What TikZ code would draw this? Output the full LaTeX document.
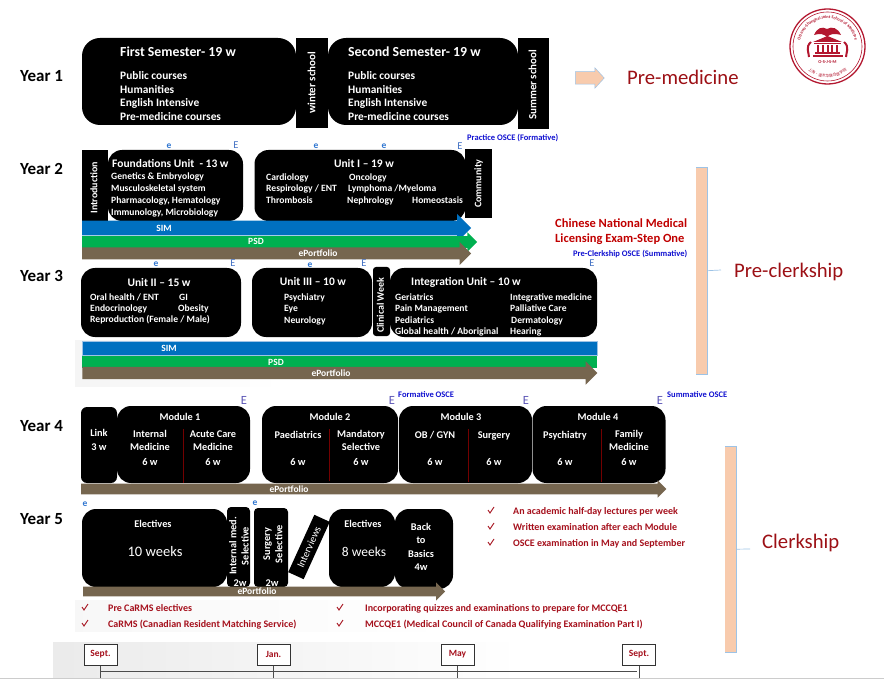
\documentclass[tikz,border=0pt]{standalone}
\usepackage{fontspec}
\setmainfont{Carlito}
\newfontfamily\cjk{Noto Sans CJK SC}
\usepackage{xcolor}
\usetikzlibrary{calc,shapes.arrows,decorations.text}

\definecolor{simblue}{HTML}{0070C0}
\definecolor{psdgreen}{HTML}{00B050}
\definecolor{portbrown}{HTML}{76664F}
\definecolor{peach}{HTML}{F8CBAD}
\definecolor{paleblue}{HTML}{9DC3E6}
\definecolor{titlered}{HTML}{9C1015}
\definecolor{notered}{HTML}{A5101C}
\definecolor{stepred}{HTML}{C00000}
\definecolor{logored}{HTML}{B3172F}
\definecolor{osceblue}{HTML}{1010D0}
\definecolor{markblue}{HTML}{4472C4}
\definecolor{markpurple}{HTML}{5B55B5}
\definecolor{smallblue}{HTML}{2E75D0}

\tikzset{
    blackbox/.style={fill=black, rounded corners=#1, inner sep=0pt},
    blackbox/.default=14pt,
    blackrect/.style={fill=black, inner sep=0pt},
    blocktext/.style={text=white, font=\bfseries\fontsize{#1}{#1}\selectfont, inner sep=0pt},
    blocktext/.default=10.3,
    boxtext/.style={blocktext=#1, text height=.65*#1 pt, text depth=.2*#1 pt, yshift=-1.8pt},
    boxtext/.default=10.3,
    bandtext/.style={blocktext=9.5, text height=6.2pt, text depth=1.9pt, yshift=-.6pt},
    listtext/.style={boxtext=#1, anchor=west},
    listtext/.default=9.6,
    yeartext/.style={font=\bfseries\fontsize{17}{17}\selectfont, inner sep=0pt, anchor=west, text height=11pt, text depth=3.4pt, yshift=-2.6pt},
    bandarrow/.style 2 args={single arrow, inner xsep=0pt, inner ysep=#1, single arrow head extend=#2, anchor=west},
    bandrect/.style={inner sep=0pt, anchor=north west},
    phasetext/.style={text=titlered, font=\fontsize{20.7}{20.7}\selectfont, inner sep=0pt, anchor=west, text height=13.5pt, text depth=4pt, yshift=-2.8pt},
    oscetext/.style={text=osceblue, font=\bfseries\fontsize{8.5}{8.5}\selectfont, inner sep=0pt, anchor=west, text height=5.5pt, text depth=1.7pt, yshift=-1.4pt},
    redtext/.style={text=notered, font=\bfseries\fontsize{10}{10}\selectfont, inner sep=0pt, anchor=west, text height=6.5pt, text depth=2pt, yshift=-1.6pt},
    steptext/.style={text=stepred, font=\bfseries\fontsize{12.5}{12.5}\selectfont, inner sep=0pt, anchor=west, text height=8.1pt, text depth=2.5pt, yshift=-1.8pt},
    markE/.style={text=markblue, font=\fontsize{10.5}{10.5}\selectfont, inner sep=0pt},
    marke/.style={text=smallblue, font=\bfseries\fontsize{9.5}{9.5}\selectfont, inner sep=0pt},
    bigE/.style={text=markpurple, font=\fontsize{12.5}{12.5}\selectfont, inner sep=0pt},
    monthbox/.style={draw=black!80, line width=1pt, fill=white, text=notered, font=\bfseries\fontsize{9.5}{9.5}\selectfont, minimum width=33pt, minimum height=21pt, inner sep=0pt},
    bracketbar/.style={fill=peach, inner sep=0pt, anchor=north west},
    bracketline/.style={draw=paleblue, line width=.7pt},
    divider/.style={draw=red!45!black, line width=1pt}
}

\begin{document}
\begin{tikzpicture}[x=1pt, y=-1pt]
    \useasboundingbox (0,0) rectangle (884,679);

    % faint paper behind year 3, year 5 notes and the months
    \fill[left color=black!8, right color=white, draw=none] (53,642) rectangle (520,677);
    \fill[left color=black!4, right color=white, draw=none] (75,340) rectangle (280,386);
    \fill[left color=black!3, right color=white, draw=none] (75,600) rectangle (450,631);
    \draw[black!20, line width=1pt] (0,678) -- (884,678);

    % year labels
    \node[yeartext] (y1) at (20,75) {Year 1};
    \node[yeartext] (y2) at (20,168) {Year 2};
    \node[yeartext] (y3) at (20,275) {Year 3};
    \node[yeartext] (y4) at (20,425) {Year 4};
    \node[yeartext] (y5) at (20,518) {Year 5};

    % year 1
    \node[blackrect, minimum width=32pt, minimum height=90pt] (winter) at (312,83) {};
    \node[blackrect, minimum width=31pt, minimum height=91pt] (summer) at (533.5,83.5) {};
    \node[blackbox=18pt, minimum width=214pt, minimum height=87pt] (first) at (189,81.5) {};
    \node[blackbox=18pt, minimum width=190pt, minimum height=87pt] (second) at (423,81.5) {};
    \node[boxtext=13.8, anchor=west] (firstT) at (120,52) {First Semester- 19 w};
    \node[listtext=11.4] (firstL1) at (120,75) {Public courses};
    \node[listtext=11.4] (firstL2) at (120,89) {Humanities};
    \node[listtext=11.4] (firstL3) at (120,102) {English Intensive};
    \node[listtext=11.4] (firstL4) at (120,116) {Pre-medicine courses};
    \node[boxtext=13.8, anchor=west] (secondT) at (348,52) {Second Semester- 19 w};
    \node[listtext=11.4] (secondL1) at (348,75) {Public courses};
    \node[listtext=11.4] (secondL2) at (348,89) {Humanities};
    \node[listtext=11.4] (secondL3) at (348,102) {English Intensive};
    \node[listtext=11.4] (secondL4) at (348,116) {Pre-medicine courses};
    \node[boxtext=11, rotate=90] (winterT) at (313,81) {winter school};
    \node[boxtext=11, rotate=90] (summerT) at (534,83) {Summer school};
    \node[single arrow, inner xsep=0pt, inner ysep=6pt, single arrow head extend=4pt, single arrow tip angle=95, fill=peach, draw=paleblue, line width=.5pt, minimum height=29pt, anchor=west] (goarrow) at (575,78) {};
    \node[phasetext] (premed) at (627,77) {Pre-medicine};

    % logo
    \node[draw=logored, line width=1.3pt, circle, minimum size=75pt, inner sep=0pt] (logo) at (827.5,46.5) {};
    \draw[logored, line width=.6pt] (logo.center) circle (34.5);
    \path[decorate, decoration={text along path, text align=center, text={|\color{logored}\bfseries\fontsize{4.3}{4.3}\selectfont|Ottawa-Shanghai Joint School of Medicine}}]
        (800.5,53.7) arc[start angle=165, end angle=375, radius=28];
    \path[decorate, decoration={text along path, text align=center, text={|\cjk\color{logored}\fontsize{3.8}{3.8}\selectfont|上海·渥太华联合医学院}}]
        (798,56) arc[start angle=162, end angle=18, radius=31];
    \fill[logored] (827,29) .. controls (822,26) and (817,28) .. (814,35) .. controls (820,33) and (824,34) .. (827,37) .. controls (830,34) and (834,33) .. (841,35) .. controls (838,28) and (832,26) .. (827,29) -- cycle;
    \fill[logored] (813,42) -- (827.5,36) -- (842,42) -- cycle;
    \fill[logored] (814,43) rectangle (841,44.5);
    \fill[logored] (815,52) rectangle (840,54);
    \fill[logored] (812.5,55) rectangle (842.5,57.5);
    \foreach \colx in {817,822,826.5,831,836}
        \fill[logored] (\colx,45) rectangle (\colx+2.4,52);
    \draw[logored, line width=2pt] (811,42) .. controls (805,47) and (809,53) .. (809,57);
    \draw[logored, line width=2pt] (844,42) .. controls (850,47) and (846,53) .. (846,57);
    \node[text=logored, font=\bfseries\fontsize{4.5}{4.5}\selectfont, inner sep=0pt] (logoT) at (827.5,62) {O-S-J-S-M};

    % year 2
    \node[blackrect, minimum width=26pt, minimum height=71pt] (intro) at (95,185.5) {};
    \node[blackrect, minimum width=27pt, minimum height=69pt] (commun) at (478.5,183.5) {};
    \node[blackbox, minimum width=135pt, minimum height=71pt] (found) at (175.5,185.5) {};
    \node[blackbox, minimum width=211pt, minimum height=71pt] (unitA) at (360,185.5) {};
    \node[boxtext=10, rotate=90] (introT) at (95,186) {Introduction};
    \node[boxtext=10, rotate=90] (communT) at (479,182) {Community};
    \node[boxtext=11.5, anchor=west] (foundT) at (112,163) {Foundations Unit ~- 13 w};
    \node[listtext] (foundL1) at (111,176) {Genetics \& Embryology};
    \node[listtext] (foundL2) at (111,188) {Musculoskeletal system};
    \node[listtext] (foundL3) at (111,200) {Pharmacology, Hematology};
    \node[listtext] (foundL4) at (111,212) {Immunology, Microbiology};
    \node[boxtext=11.5] (unitAT) at (364,163) {Unit I -- 19 w};
    \node[listtext] (unitA1) at (266,177) {Cardiology};
    \node[listtext] (unitA2) at (266,188) {Respirology / ENT};
    \node[listtext] (unitA3) at (266,200) {Thrombosis};
    \node[listtext] (unitA4) at (349,177) {Oncology};
    \node[listtext] (unitA5) at (348,188) {Lymphoma /Myeloma};
    \node[listtext] (unitA6) at (347,200) {Nephrology};
    \node[listtext] (unitA7) at (412,200) {Homeostasis};

    \node[bandarrow={7.2pt}{6.8pt}, fill=simblue, minimum height=389pt] (simA) at (82,228) {};
    \node[bandarrow={5.7pt}{4pt}, fill=psdgreen, minimum height=395pt] (psdA) at (82,242) {};
    \node[bandarrow={5.8pt}{5.7pt}, fill=portbrown, minimum height=389pt] (portA) at (82,253.5) {};
    \node[bandtext] (simAT) at (164,229) {SIM};
    \node[bandtext] (psdAT) at (256,242) {PSD};
    \node[bandtext] (portAT) at (318,254) {ePortfolio};

    \node[marke] (e1) at (169,146) {e};
    \node[markE] (E1) at (236,145) {E};
    \node[marke] (e2) at (316,146) {e};
    \node[marke] (e3) at (384,146) {e};
    \node[markE] (E2) at (460,146) {E};
    \node[oscetext] (osce1) at (467,137) {Practice OSCE (Formative)};
    \node[steptext] (step1A) at (555,223) {Chinese National Medical};
    \node[steptext] (step1B) at (555,238) {Licensing Exam-Step One};
    \node[oscetext] (osce2) at (573,253) {Pre-Clerkship OSCE (Summative)};

    % year 3
    \node[blackbox, minimum width=160pt, minimum height=69pt] (unitB) at (161,302.5) {};
    \node[blackbox, minimum width=120pt, minimum height=69pt] (unitC) at (312,302.5) {};
    \node[blackbox=3pt, minimum width=17pt, minimum height=69pt] (clin) at (381.5,301.5) {};
    \node[blackbox, minimum width=207pt, minimum height=69pt] (integ) at (493.5,302.5) {};
    \node[boxtext=11.5] (unitBT) at (159,282) {Unit II -- 15 w};
    \node[listtext] (unitB1) at (90,297) {Oral health / ENT};
    \node[listtext] (unitB2) at (90,308) {Endocrinology};
    \node[listtext] (unitB3) at (90,319) {Reproduction (Female / Male)};
    \node[listtext] (unitB4) at (179,297) {GI};
    \node[listtext] (unitB5) at (178,308) {Obesity};
    \node[boxtext=11.5] (unitCT) at (313,281) {Unit III -- 10 w};
    \node[listtext] (unitC1) at (284,297) {Psychiatry};
    \node[listtext] (unitC2) at (284,308) {Eye};
    \node[listtext] (unitC3) at (284,320) {Neurology};
    \node[boxtext=10, rotate=90] (clinT) at (381.5,303.5) {Clinical Week};
    \node[boxtext=11.5, anchor=west] (integT) at (411,281) {Integration Unit -- 10 w};
    \node[listtext] (integ1) at (395,297) {Geriatrics};
    \node[listtext] (integ2) at (395,308) {Pain Management};
    \node[listtext] (integ3) at (395,320) {Pediatrics};
    \node[listtext] (integ4) at (395,331) {Global health / Aboriginal};
    \node[listtext] (integ5) at (510,297) {Integrative medicine};
    \node[listtext] (integ6) at (510,308) {Palliative Care};
    \node[listtext] (integ7) at (511,320) {Dermatology};
    \node[listtext] (integ8) at (510,331) {Hearing};

    \node[bandrect, fill=simblue, draw=paleblue, line width=.5pt, minimum width=515pt, minimum height=14pt] (simB) at (82,341) {};
    \node[bandrect, fill=psdgreen, minimum width=515pt, minimum height=12pt] (psdB) at (82,356) {};
    \node[bandarrow={6pt}{5.5pt}, fill=portbrown, minimum height=515pt] (portB) at (82,373) {};
    \node[bandtext] (simBT) at (169,349) {SIM};
    \node[bandtext] (psdBT) at (276,363) {PSD};
    \node[bandtext] (portBT) at (331,374) {ePortfolio};

    \node[marke] (e4) at (156,264) {e};
    \node[markE] (E3) at (233,263) {E};
    \node[marke] (e5) at (310,265) {e};
    \node[markE] (E4) at (364,263) {E};
    \node[markE] (E5) at (592,263) {E};

    % year 4
    \node[blackbox=6pt, minimum width=36pt, minimum height=76pt] (link) at (99,445) {};
    \node[blackbox, minimum width=133pt, minimum height=77pt] (modA) at (183.5,444.5) {};
    \node[blackbox, minimum width=136pt, minimum height=77pt] (modB) at (330,444.5) {};
    \node[blackbox, minimum width=133pt, minimum height=77pt] (modC) at (465.5,444.5) {};
    \node[blackbox, minimum width=133pt, minimum height=77pt] (modD) at (599,444.5) {};
    \draw[divider] (183,429) -- (183,483);
    \draw[divider] (329,429) -- (329,481);
    \draw[divider] (468,429) -- (468,482);
    \draw[divider] (601,429) -- (601,482);
    \node[blocktext, align=center] (linkT) at (99,440) {Link\\[3pt]3 w};
    \foreach \nm/\cx/\lab in {modAT/180/Module 1, modBT/330/Module 2, modCT/461/Module 3, modDT/598/Module 4}
        \node[boxtext] (\nm) at (\cx,416) {\lab};
    \foreach \nm/\cx/\lab in {subA/298/Paediatrics, subB/435/{OB / GYN}, subC/494/Surgery, subD/565/Psychiatry}
        \node[boxtext] (\nm) at (\cx,434) {\lab};
    \foreach \nm/\cx/\lab in {subE/150/Internal\\[3pt]Medicine, subF/213/Acute Care\\[3pt]Medicine, subG/361/Mandatory\\[3pt]Selective, subH/629/Family\\[3pt]Medicine}
        \node[blocktext, align=center] (\nm) at (\cx,440.5) {\lab};
    \foreach \nm/\cx in {wkA/150, wkB/213, wkC/298, wkD/361, wkE/435, wkF/494, wkG/565, wkH/629}
        \node[boxtext] (\nm) at (\cx,461) {6 w};
    \node[bandarrow={5.2pt}{3.3pt}, fill=portbrown, minimum height=585pt] (portC) at (81,489) {};
    \node[bandtext] (portCT) at (289,489.5) {ePortfolio};

    \node[bigE] (E6) at (244,400) {E};
    \node[bigE] (E7) at (392,400) {E};
    \node[bigE] (E8) at (526,400) {E};
    \node[bigE] (E9) at (660,400) {E};
    \node[oscetext] (osce3) at (398,394) {Formative OSCE};
    \node[oscetext] (osce4) at (667,394) {Summative OSCE};

    % year 5
    \node[blackbox, minimum width=145pt, minimum height=78pt] (electA) at (154.5,548) {};
    \node[blackbox=4pt, minimum width=23pt, minimum height=80pt] (intern) at (238.5,547) {};
    \node[blackbox=4pt, minimum width=34pt, minimum height=79pt] (surg) at (271,547.5) {};
    \node[blackrect, minimum width=63pt, minimum height=17pt, rotate=65.5] (interv) at (309,547) {};
    \node[blackbox, minimum width=66pt, minimum height=78pt] (electB) at (362,548) {};
    \node[blackbox, minimum width=58pt, minimum height=80pt] (basics) at (424,549) {};
    \node[boxtext] (electAT) at (153,523) {Electives};
    \node[text=white, font=\fontsize{14.5}{14.5}\selectfont, inner sep=0pt] (electAW) at (155,552) {10 weeks};
    \node[blocktext, rotate=90, align=center] (internT) at (239,546) {Internal med.\\[2pt]Selective};
    \node[boxtext] (internW) at (240,582) {2w};
    \node[blocktext, rotate=90, align=center] (surgT) at (273,544) {Surgery\\[2pt]Selective};
    \node[boxtext] (surgW) at (272,582) {2w};
    \node[text=white, font=\fontsize{10.5}{10.5}\selectfont, inner sep=0pt, rotate=65.5] (intervT) at (309,547) {Interviews};
    \node[boxtext] (electBT) at (363,523) {Electives};
    \node[text=white, font=\fontsize{13.5}{13.5}\selectfont, inner sep=0pt] (electBW) at (364,552) {8 weeks};
    \node[blocktext, align=center] (basicsT) at (421,547) {Back\\[3pt]to\\[3pt]Basics\\[3pt]4w};
    \node[bandarrow={4.7pt}{4.3pt}, fill=portbrown, minimum height=362pt] (portD) at (83,591.5) {};
    \node[bandtext] (portDT) at (257,592) {ePortfolio};
    \node[marke] (e6) at (85,504) {e};
    \node[marke] (e7) at (255,503) {e};

    % notes
    \foreach \nm/\cx/\tx/\cy/\lab in {
        noteA/491/513/511/An academic half-day lectures per week,
        noteB/491/513/527/Written examination after each Module,
        noteC/491/513/543/OSCE examination in May and September,
        noteD/85/108/608/Pre CaRMS electives,
        noteE/85/108/624/CaRMS (Canadian Resident Matching Service),
        noteF/340/365/608/Incorporating quizzes and examinations to prepare for MCCQE1,
        noteG/340/365/624/MCCQE1 (Medical Council of Canada Qualifying Examination Part I)}
    {
        \draw[notered, line width=.9pt] (\cx-3,\cy-1) -- (\cx-1,\cy+2) -- (\cx+3,\cy-4);
        \node[redtext] (\nm) at (\tx,\cy) {\lab};
    }

    % brackets
    \node[bracketbar, minimum width=11pt, minimum height=207pt] (barA) at (696,167) {};
    \draw[bracketline] (barA.north west) -- (barA.north east) -- (barA.south east) -- (barA.south west);
    \coordinate (tickA) at (721,270);
    \draw[bracketline] (barA.east) -- (tickA);
    \node[phasetext] (preclerk) at (734,270) {Pre-clerkship};
    \node[bracketbar, minimum width=11pt, minimum height=206pt] (barB) at (725,446) {};
    \draw[bracketline] (barB.north west) -- (barB.north east) -- (barB.south east) -- (barB.south west);
    \coordinate (tickB) at (750,549);
    \draw[bracketline] (barB.east) -- (tickB);
    \node[phasetext] (clerk) at (762,541) {Clerkship};

    % months
    \coordinate (lineA) at (100.5,671);
    \coordinate (lineB) at (637,671);
    \draw[black!70, line width=.8pt] (lineA) -- (lineB);
    \node[monthbox] (sept1) at (100.5,654.5) {Sept.};
    \node[monthbox] (jan) at (273.5,654.5) {Jan.};
    \node[monthbox] (may) at (457.5,654.5) {May};
    \node[monthbox] (sept2) at (639,654.5) {Sept.};
    \foreach \nm in {sept1,jan,may,sept2}
        \draw[black!70, line width=.8pt] (\nm.south) -- ++(0,12);
\end{tikzpicture}
\end{document}
